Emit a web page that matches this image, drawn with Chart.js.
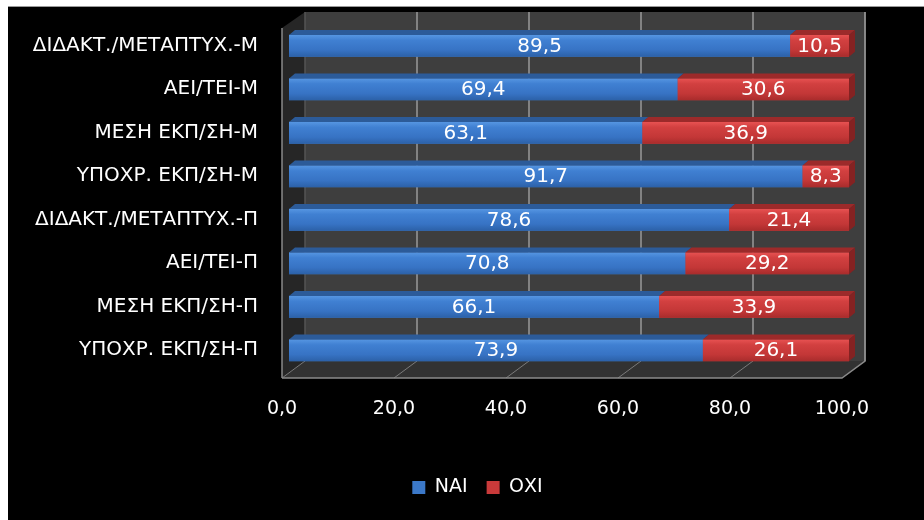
<!DOCTYPE html>
<html>
<head>
<meta charset="utf-8">
<script src="https://cdn.jsdelivr.net/npm/chart.js@4/dist/chart.umd.min.js"></script>
<style>
html,body{margin:0;padding:0;background:#fff;}
canvas{display:block;}
</style>
</head>
<body>
<canvas id="c" width="924" height="520"></canvas>
<script>
const categories = [
  'ΔΙΔΑΚΤ./ΜΕΤΑΠΤΥΧ.-Μ',
  'ΑΕΙ/ΤΕΙ-Μ',
  'ΜΕΣΗ ΕΚΠ/ΣΗ-Μ',
  'ΥΠΟΧΡ. ΕΚΠ/ΣΗ-Μ',
  'ΔΙΔΑΚΤ./ΜΕΤΑΠΤΥΧ.-Π',
  'ΑΕΙ/ΤΕΙ-Π',
  'ΜΕΣΗ ΕΚΠ/ΣΗ-Π',
  'ΥΠΟΧΡ. ΕΚΠ/ΣΗ-Π'
];
const seriesNames = ['ΝΑΙ', 'ΟΧΙ'];
const valuesYes = [89.5, 69.4, 63.1, 91.7, 78.6, 70.8, 66.1, 73.9];
const valuesNo  = [10.5, 30.6, 36.9, 8.3, 21.4, 29.2, 33.9, 26.1];
const axisMin = 0, axisMax = 100, axisStep = 20;

const FONT = 'DejaVu Sans';
const fmt = v => Number(v).toFixed(1).replace('.', ',');

// 3D offsets relative to the bar plane
const FX = -7, FY = 6;     // front floor edge
const BX = 16, BY = -11;   // back wall
const DX = 6, DY = -5;     // bar depth

const palette = {
  blue: {base:'#3b78c8', top:'#2c5b99', side:'#244c82', g:['#5696e2','#4080d2','#3773c4','#2c61a8']},
  red:  {base:'#c93a3a', top:'#9c2a2a', side:'#842222', g:['#e85252','#d24040','#c33737','#a92c2c']}
};

const scenePlugin = {
  id: 'scene',
  afterLayout(chart) {
    const lg = chart.legend;
    if (lg) { const shift = 49; lg.left += shift; lg.right += shift; }
  },
  beforeDraw(chart) {
    const ctx = chart.ctx;
    ctx.save();
    ctx.fillStyle = '#ffffff';
    ctx.fillRect(0, 0, chart.width, chart.height);
    ctx.fillStyle = '#000000';
    ctx.fillRect(8, 6, chart.width - 8, chart.height - 6);
    ctx.strokeStyle = '#9a9a9a';
    ctx.lineWidth = 1;
    ctx.beginPath(); ctx.moveTo(8, 6.5); ctx.lineTo(chart.width, 6.5); ctx.stroke();
    ctx.restore();
  },
  beforeDatasetsDraw(chart) {
    const ctx = chart.ctx, a = chart.chartArea, xs = chart.scales.x;
    const X0 = xs.getPixelForValue(axisMin), X1 = xs.getPixelForValue(axisMax);
    const top = a.top, bot = a.bottom;
    ctx.save();
    ctx.fillStyle = '#3e3e3e';
    ctx.fillRect(X0 + BX, top + BY - 1, X1 - X0, (bot + BY) - (top + BY - 1));
    ctx.strokeStyle = '#9a9a9a';
    ctx.lineWidth = 1.5;
    for (let v = axisMin + axisStep; v <= axisMax; v += axisStep) {
      const x = xs.getPixelForValue(v) + BX;
      ctx.beginPath(); ctx.moveTo(x, top + BY - 1); ctx.lineTo(x, bot + BY); ctx.stroke();
    }
    ctx.fillStyle = '#262626';
    ctx.beginPath();
    ctx.moveTo(X0 + FX, bot + FY);
    ctx.lineTo(X0 + FX, top + 4);
    ctx.lineTo(X0 + BX, top + BY - 1);
    ctx.lineTo(X0 + BX, bot + BY);
    ctx.closePath(); ctx.fill();
    ctx.strokeStyle = '#8a8a8a';
    ctx.lineWidth = 1.5;
    ctx.beginPath(); ctx.moveTo(X0 + FX, bot + FY); ctx.lineTo(X0 + FX, top + 4); ctx.stroke();
    ctx.strokeStyle = '#555';
    ctx.beginPath(); ctx.moveTo(X0 + BX, bot + BY); ctx.lineTo(X0 + BX, top + BY - 1); ctx.stroke();
    ctx.fillStyle = '#323232';
    ctx.beginPath();
    ctx.moveTo(X0 + FX, bot + FY);
    ctx.lineTo(X1 + FX, bot + FY);
    ctx.lineTo(X1 + BX, bot + BY);
    ctx.lineTo(X0 + BX, bot + BY);
    ctx.closePath(); ctx.fill();
    ctx.strokeStyle = '#7a7a7a';
    ctx.lineWidth = 1;
    for (let v = axisMin; v < axisMax; v += axisStep) {
      const x = xs.getPixelForValue(v);
      ctx.beginPath(); ctx.moveTo(x + FX, bot + FY); ctx.lineTo(x + BX, bot + BY); ctx.stroke();
    }
    ctx.strokeStyle = '#8a8a8a';
    ctx.lineWidth = 1.5;
    ctx.beginPath();
    ctx.moveTo(X0 + FX, bot + FY);
    ctx.lineTo(X1 + FX, bot + FY);
    ctx.lineTo(X1 + BX, bot + BY);
    ctx.lineTo(X1 + BX, top + BY - 1);
    ctx.stroke();
    ctx.restore();
  },
  afterDatasetsDraw(chart) {
    const ctx = chart.ctx;
    ctx.save();
    const nCat = categories.length;
    for (let i = 0; i < nCat; i++) {
      let lastEl = null, lastCol = null;
      chart.data.datasets.forEach((ds, di) => {
        const meta = chart.getDatasetMeta(di);
        const el = meta.data[i];
        if (!el) return;
        const col = di === 0 ? palette.blue : palette.red;
        const xL = Math.min(el.base, el.x), xR = Math.max(el.base, el.x);
        const yT = el.y - el.height / 2, yB = el.y + el.height / 2;
        const g = ctx.createLinearGradient(0, yT, 0, yB);
        g.addColorStop(0, col.g[0]); g.addColorStop(0.25, col.g[1]);
        g.addColorStop(0.7, col.g[2]); g.addColorStop(1, col.g[3]);
        ctx.fillStyle = g;
        ctx.fillRect(xL, yT, xR - xL, yB - yT);
        ctx.fillStyle = col.top;
        ctx.beginPath();
        ctx.moveTo(xL, yT); ctx.lineTo(xR, yT); ctx.lineTo(xR + DX, yT + DY); ctx.lineTo(xL + DX, yT + DY);
        ctx.closePath(); ctx.fill();
        lastEl = {xR, yT, yB}; lastCol = col;
      });
      if (lastEl) {
        ctx.fillStyle = lastCol.side;
        ctx.beginPath();
        ctx.moveTo(lastEl.xR, lastEl.yT); ctx.lineTo(lastEl.xR + DX, lastEl.yT + DY);
        ctx.lineTo(lastEl.xR + DX, lastEl.yB + DY); ctx.lineTo(lastEl.xR, lastEl.yB);
        ctx.closePath(); ctx.fill();
      }
    }
    ctx.fillStyle = '#ffffff';
    ctx.font = '20px "' + FONT + '"';
    ctx.textAlign = 'center';
    ctx.textBaseline = 'middle';
    chart.data.datasets.forEach((ds, di) => {
      const meta = chart.getDatasetMeta(di);
      meta.data.forEach((el, i) => {
        const cx = (el.base + el.x) / 2;
        ctx.fillText(fmt(ds.data[i]), cx, el.y + 1);
      });
    });
    ctx.restore();
  }
};

new Chart(document.getElementById('c'), {
  type: 'bar',
  data: {
    labels: categories,
    datasets: [
      { label: seriesNames[0], data: valuesYes, backgroundColor: palette.blue.base, borderWidth: 0,
        barPercentage: 0.5, categoryPercentage: 1.0 },
      { label: seriesNames[1], data: valuesNo, backgroundColor: palette.red.base, borderWidth: 0,
        barPercentage: 0.5, categoryPercentage: 1.0 }
    ]
  },
  options: {
    indexAxis: 'y',
    responsive: false,
    animation: false,
    devicePixelRatio: 1,
    layout: { padding: { left: 8, right: 75, top: 24, bottom: 13 } },
    plugins: {
      legend: {
        position: 'bottom',
        labels: {
          color: '#ffffff',
          font: { family: FONT, size: 19 },
          boxWidth: 13, boxHeight: 13, padding: 19
        }
      },
      tooltip: { enabled: false }
    },
    scales: {
      x: {
        stacked: true,
        min: axisMin, max: axisMax,
        grid: { display: false, drawTicks: true, tickLength: 24 },
        border: { display: false },
        ticks: {
          stepSize: axisStep,
          color: '#ffffff',
          font: { family: FONT, size: 19 },
          padding: 2,
          labelOffset: -7,
          callback: v => fmt(v)
        },
        afterFit: s => { s.height = 87; }
      },
      y: {
        stacked: true,
        grid: { display: false, drawTicks: true, tickLength: 28 },
        border: { display: false },
        ticks: {
          color: '#ffffff',
          font: { family: FONT, size: 20 },
          padding: 3
        },
        afterFit: s => { s.width = 281; }
      }
    }
  },
  plugins: [scenePlugin]
});
</script>
</body>
</html>
